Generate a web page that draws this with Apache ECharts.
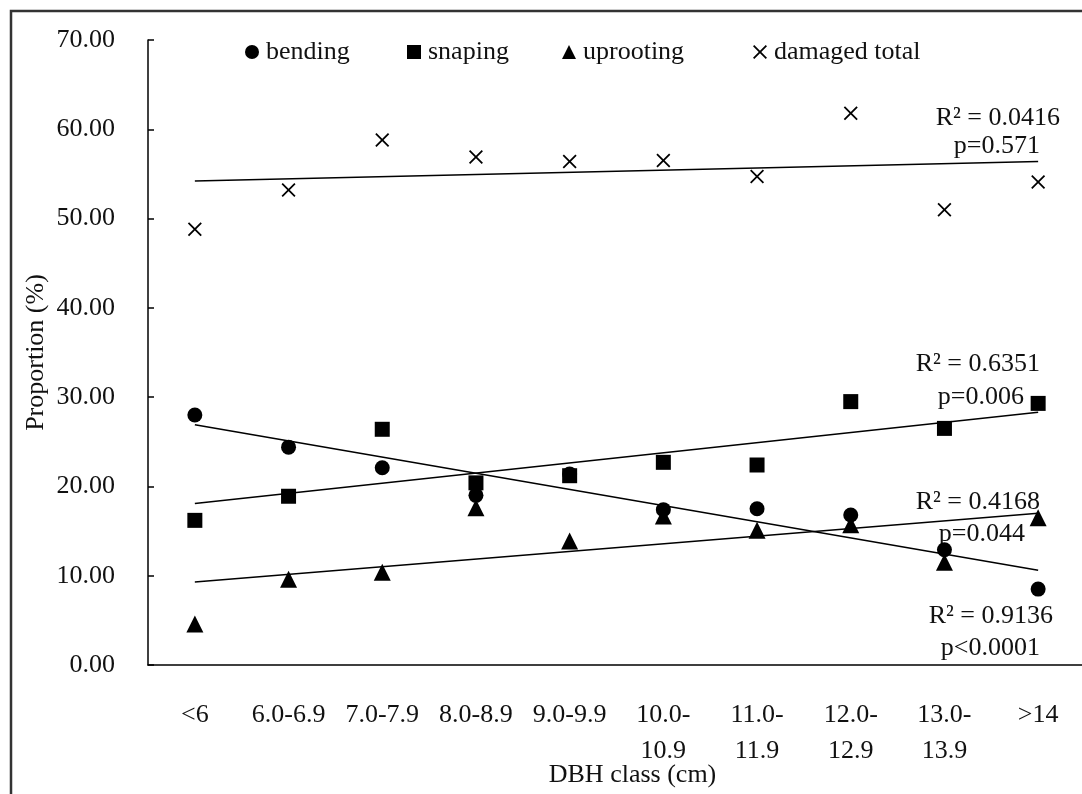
<!DOCTYPE html>
<html>
<head>
<meta charset="utf-8">
<script src="https://cdn.jsdelivr.net/npm/echarts@6/dist/echarts.min.js"></script>
<style>
html,body{margin:0;padding:0;background:#fff;}
#chart{width:1082px;height:794px;}
</style>
</head>
<body>
<div id="chart"></div>
<script>
// ---- data ----
var categories = ['<6', '6.0-6.9', '7.0-7.9', '8.0-8.9', '9.0-9.9', '10.0-\n10.9', '11.0-\n11.9', '12.0-\n12.9', '13.0-\n13.9', '>14'];
var bending   = [28.0, 24.4, 22.1, 19.0, 21.4, 17.4, 17.5, 16.8, 12.9, 8.5];
var snaping   = [16.2, 18.9, 26.4, 20.4, 21.2, 22.7, 22.4, 29.5, 26.5, 29.3];
var uprooting = [4.6, 9.6, 10.4, 17.6, 13.9, 16.7, 15.1, 15.7, 11.5, 16.5];
var damaged   = [48.8, 53.2, 58.8, 56.9, 56.4, 56.5, 54.7, 61.8, 51.0, 54.1];
// linear trend lines: value at first and last class
var trendBending   = [26.9, 10.6];
var trendSnaping   = [18.1, 28.3];
var trendUprooting = [9.3, 17.0];
var trendDamaged   = [54.2, 56.4];
var yTicks = [0, 10, 20, 30, 40, 50, 60, 70];
var statLabels = {
  damaged:   ['R\u00B2 = 0.0416', 'p=0.571'],
  snaping:   ['R\u00B2 = 0.6351', 'p=0.006'],
  uprooting: ['R\u00B2 = 0.4168', 'p=0.044'],
  bending:   ['R\u00B2 = 0.9136', 'p<0.0001']
};

var FONT = '"Liberation Serif", "Times New Roman", serif';
var TXT = '#111';
var crossPath = 'path://M0,0.9L0.9,0L5,4.1L9.1,0L10,0.9L5.9,5L10,9.1L9.1,10L5,5.9L0.9,10L0,9.1L4.1,5Z';

function trend(name, ends) {
  return {
    name: name + ' trend', type: 'line', data: [[0, ends[0]], [categories.length - 1, ends[1]]],
    symbol: 'none', silent: true, z: 1,
    lineStyle: { color: '#000', width: 1.5 }
  };
}
function pts(name, data, symbol, size) {
  return {
    name: name, type: 'scatter', data: data, symbol: symbol, symbolSize: size, z: 3,
    itemStyle: { color: '#000', opacity: 1 }
  };
}
function legendAt(left, name, icon) {
  return {
    left: left, top: 34, itemWidth: 14, itemHeight: 14, itemGap: 0,
    textStyle: { fontSize: 26, fontFamily: FONT, color: TXT, padding: [0, 0, 0, 2] },
    data: [{ name: name, icon: icon }]
  };
}

var chart = echarts.init(document.getElementById('chart'), null, { renderer: 'canvas' });

function statText(lines, right, y1, y2) {
  return [
    { type: 'text', right: right[0], top: y1, style: { text: lines[0], font: '26px ' + FONT, fill: TXT } },
    { type: 'text', right: right[1], top: y2, style: { text: lines[1], font: '26px ' + FONT, fill: TXT } }
  ];
}

var graphics = [
  { type: 'rect', shape: { x: 11, y: 11, width: 1200, height: 900 }, style: { fill: 'none', stroke: '#333', lineWidth: 2.5 }, silent: true }
];
graphics = graphics.concat(statText(statLabels.damaged, [22, 42], 105, 133));
graphics = graphics.concat(statText(statLabels.snaping, [42, 58], 351, 384));
graphics = graphics.concat(statText(statLabels.uprooting, [42, 57], 489, 521));
graphics = graphics.concat(statText(statLabels.bending, [29, 42], 603, 635));

chart.setOption({
  backgroundColor: '#fff',
  animation: false,
  textStyle: { fontFamily: FONT, color: TXT },
  legend: [
    legendAt(240, 'bending', 'circle'),
    legendAt(402, 'snaping', 'rect'),
    legendAt(557, 'uprooting', 'triangle'),
    legendAt(748, 'damaged total', crossPath)
  ],
  grid: { left: 148, top: 40, width: 937, height: 625, outerBoundsMode: 'none', containLabel: false },
  xAxis: {
    type: 'category', data: categories, boundaryGap: true,
    name: 'DBH class (cm)', nameLocation: 'middle', nameGap: 97, nameMoveOverlap: false,
    nameTextStyle: { fontSize: 26, fontFamily: FONT, color: TXT, padding: [0, 0, 0, 32] },
    axisLine: { lineStyle: { color: '#000', width: 1.5 } },
    axisTick: { inside: true, length: 6, lineStyle: { color: '#000', width: 1.5 } },
    axisLabel: { interval: 0, fontSize: 26, fontFamily: FONT, color: TXT, margin: 32, lineHeight: 36 },
    splitLine: { show: false }
  },
  yAxis: {
    type: 'value', min: yTicks[0], max: yTicks[yTicks.length - 1], interval: 10,
    name: 'Proportion (%)', nameLocation: 'middle', nameGap: 99, nameMoveOverlap: false,
    nameTextStyle: { fontSize: 26, fontFamily: FONT, color: TXT },
    axisLine: { show: true, lineStyle: { color: '#000', width: 1.5 } },
    axisTick: { show: true, inside: true, length: 6, lineStyle: { color: '#000', width: 1.5 } },
    axisLabel: { fontSize: 26, fontFamily: FONT, color: TXT, margin: 33, formatter: function (v) { return v.toFixed(2); } },
    splitLine: { show: false }
  },
  series: [
    trend('bending', trendBending),
    trend('snaping', trendSnaping),
    trend('uprooting', trendUprooting),
    trend('damaged', trendDamaged),
    pts('bending', bending, 'circle', 15),
    pts('snaping', snaping, 'rect', 15),
    pts('uprooting', uprooting, 'triangle', 17),
    pts('damaged total', damaged, crossPath, 14)
  ],
  graphic: graphics
});
</script>
</body>
</html>
